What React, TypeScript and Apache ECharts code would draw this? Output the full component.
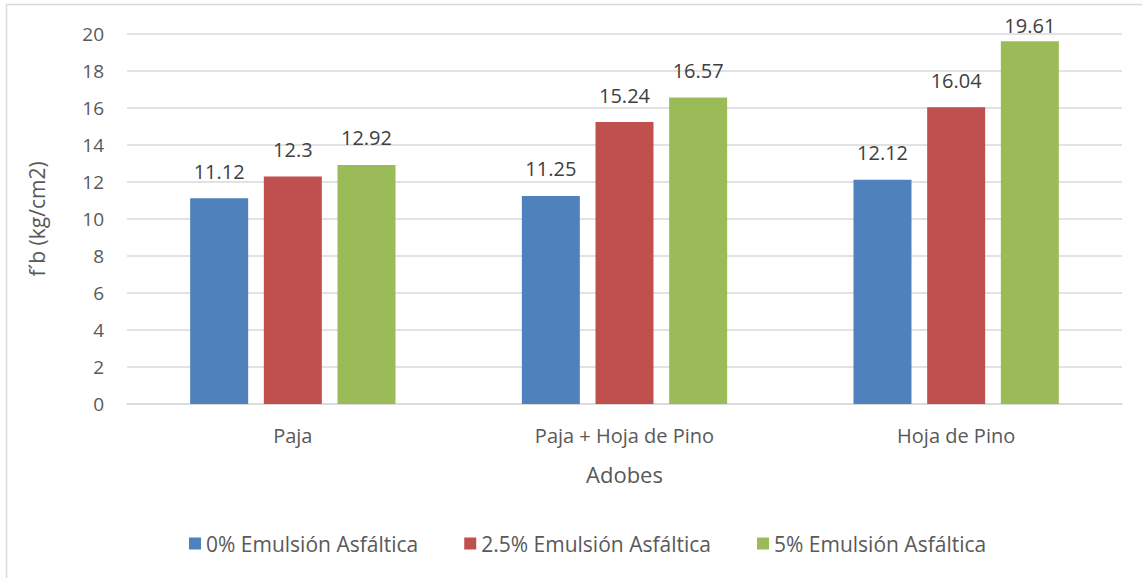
import React, { useEffect, useRef } from "react";
import * as echarts from "echarts";

const categories = ["Paja", "Paja + Hoja de Pino", "Hoja de Pino"];
const seriesNames = ["0% Emulsión Asfáltica", "2.5% Emulsión Asfáltica", "5% Emulsión Asfáltica"];
const s0 = [11.12, 11.25, 12.12];
const s25 = [12.3, 15.24, 16.04];
const s5 = [12.92, 16.57, 19.61];
const colors = ["#4F81BD", "#C0504D", "#9BBB59"];

export default function App() {
  const ref = useRef<HTMLDivElement>(null);
  useEffect(() => {
    if (!ref.current) return;
    const chart = echarts.init(ref.current, undefined, { renderer: "svg" });
    const font = "Open Sans";
    const data = [s0, s25, s5];
    chart.setOption({
      animation: false,
      textStyle: { fontFamily: font },
      graphic: [
        {
          type: "rect",
          shape: { x: 6.5, y: 4.5, width: 1200, height: 700 },
          style: { fill: "none", stroke: "#d9d9d9", lineWidth: 1.5 },
          silent: true,
        },
      ],
      grid: { left: 127, right: 20, top: 34, bottom: 174 },
      legend: {
        bottom: 19,
        left: 184,
        itemWidth: 12,
        itemHeight: 12,
        itemGap: 46,
        itemTextGap: 5,
        icon: "rect",
        textStyle: { fontSize: 21, color: "#595959", fontFamily: font },
        data: seriesNames,
      },
      xAxis: {
        type: "category",
        data: categories,
        name: "Adobes",
        nameLocation: "middle",
        nameGap: 59,
        nameTextStyle: { fontSize: 22, color: "#595959", fontFamily: font },
        axisLine: { lineStyle: { color: "#d9d9d9", width: 1.5 } },
        axisTick: { show: false },
        axisLabel: { fontSize: 20, color: "#595959", margin: 21 },
      },
      yAxis: {
        type: "value",
        min: 0,
        max: 20,
        interval: 2,
        name: "f´b (kg/cm2)",
        nameLocation: "middle",
        nameGap: 80,
        nameTextStyle: { fontSize: 21, color: "#595959", fontFamily: font },
        axisLine: { show: false },
        axisTick: { show: false },
        axisLabel: { fontSize: 19, color: "#595959", margin: 23 },
        splitLine: { lineStyle: { color: "#d9d9d9", width: 1.5 } },
      },
      series: seriesNames.map((name, i) => ({
        name,
        type: "bar",
        data: data[i].map((v) =>
          v > 19 ? { value: v, label: { distance: 6 } } : v
        ),
        barWidth: 58,
        barGap: "27%",
        itemStyle: { color: colors[i] },
        label: {
          show: true,
          position: "top",
          distance: 17,
          fontSize: 20,
          color: "#404040",
          fontFamily: font,
        },
      })),
    });
    return () => chart.dispose();
  }, []);
  return (
    <div
      ref={ref}
      style={{ position: "fixed", left: 0, top: 0, width: 1142, height: 578, background: "#fff" }}
    />
  );
}
